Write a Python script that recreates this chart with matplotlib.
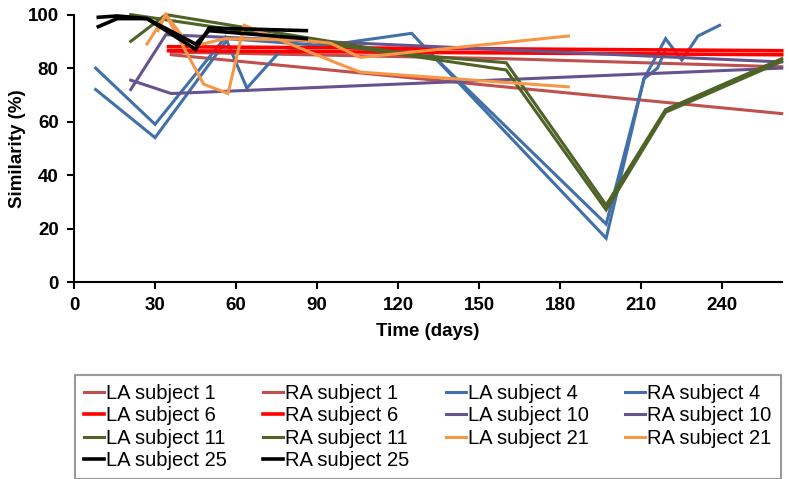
import matplotlib.pyplot as plt

plt.rcParams['font.family'] = ['Liberation Sans', 'DejaVu Sans']

# series data: (days, similarity %)
la1_t = [36, 262]
la1_v = [85, 63]
ra1_t = [36, 160, 262]
ra1_v = [86, 83.5, 80.5]

la4_t = [8, 30, 56, 64, 76, 125, 197, 211, 219, 225, 231, 239]
la4_v = [80, 59, 91.5, 72.5, 86, 93, 16.4, 76, 91, 83, 92, 96]
ra4_t = [8, 30, 57, 132, 197, 211, 216, 219]
ra4_v = [72, 54, 91, 85.5, 21.7, 76, 80, 87]

la6_t = [35, 262]
la6_v = [88, 86.5]
ra6_t = [35, 262]
ra6_v = [86.5, 85]

la10_t = [21, 36, 262]
la10_v = [75.5, 70.5, 80]
ra10_t = [21, 34, 262]
ra10_v = [72, 92.5, 82.3]

la11_t = [21, 34, 125, 160, 197, 219, 262]
la11_v = [90, 100, 85, 82, 28.8, 64.5, 83.5]
ra11_t = [21, 160, 197, 219, 262]
ra11_v = [100, 79.3, 27, 63.5, 82.5]

la21_t = [27, 34, 48, 57, 63, 97, 106, 183]
la21_v = [89, 100, 74, 70.5, 96, 82, 78.5, 73]
ra21_t = [31, 34, 43, 56, 84, 95, 106, 183]
ra21_v = [94, 100, 88, 91, 90.5, 89.3, 84, 92]

la25_t = [9, 16, 27, 45, 50, 86]
la25_v = [99, 99.5, 98.5, 87, 95, 94]
ra25_t = [9, 16, 27, 45, 50, 86]
ra25_v = [95.5, 98.5, 98.5, 89, 94, 91]

c_brown = '#C0504D'
c_blue = '#4270A8'
c_red = '#FF0000'
c_purple = '#66548F'
c_green = '#4F6228'
c_orange = '#F79646'
c_black = '#000000'

fig = plt.figure(figsize=(7.89, 4.79), dpi=100)
ax = fig.add_axes([0.0938, 0.411, 0.897, 0.5585])

lw = 2.2
l_la1, = ax.plot(la1_t, la1_v, color=c_brown, lw=lw, label='LA subject 1')
l_ra1, = ax.plot(ra1_t, ra1_v, color=c_brown, lw=lw, label='RA subject 1')
l_la4, = ax.plot(la4_t, la4_v, color=c_blue, lw=lw, label='LA subject 4')
l_ra4, = ax.plot(ra4_t, ra4_v, color=c_blue, lw=lw, label='RA subject 4')
l_la6, = ax.plot(la6_t, la6_v, color=c_red, lw=2.6, label='LA subject 6')
l_ra6, = ax.plot(ra6_t, ra6_v, color=c_red, lw=2.6, label='RA subject 6')
l_la10, = ax.plot(la10_t, la10_v, color=c_purple, lw=lw, label='LA subject 10')
l_ra10, = ax.plot(ra10_t, ra10_v, color=c_purple, lw=lw, label='RA subject 10')
l_la11, = ax.plot(la11_t, la11_v, color=c_green, lw=lw, label='LA subject 11')
l_ra11, = ax.plot(ra11_t, ra11_v, color=c_green, lw=lw, label='RA subject 11')
l_la21, = ax.plot(la21_t, la21_v, color=c_orange, lw=lw, label='LA subject 21')
l_ra21, = ax.plot(ra21_t, ra21_v, color=c_orange, lw=lw, label='RA subject 21')
l_la25, = ax.plot(la25_t, la25_v, color=c_black, lw=2.6, label='LA subject 25')
l_ra25, = ax.plot(ra25_t, ra25_v, color=c_black, lw=2.6, label='RA subject 25')

for ln in ax.get_lines():
    ln.set_clip_on(False)
    ln.set_solid_joinstyle('miter')

ax.set_xlim(0, 262)
ax.set_ylim(0, 100)
ax.set_xticks(range(0, 241, 30))
ax.set_yticks(range(0, 101, 20))
for s in ['top', 'right']:
    ax.spines[s].set_visible(False)
for s in ['left', 'bottom']:
    ax.spines[s].set_linewidth(1.5)
ax.tick_params(direction='out', width=1.5, length=5, labelsize=13.5, pad=6)
for lab in ax.get_xticklabels() + ax.get_yticklabels():
    lab.set_fontweight('bold')
ax.set_xlabel('Time (days)', fontsize=13.5, fontweight='bold', labelpad=6)
ax.set_ylabel('Similarity (%)', fontsize=13.5, fontweight='bold', labelpad=1)

# legend is filled column by column, so order handles to read row-wise
handles = [l_la1, l_la6, l_la11, l_la25,
           l_ra1, l_ra6, l_ra11, l_ra25,
           l_la4, l_la10, l_la21,
           l_ra4, l_ra10, l_ra21]
leg = fig.legend(handles=handles, ncol=4, loc='upper left',
                 bbox_to_anchor=(75 / 789, 1 - 375 / 479),
                 fontsize=14.5, frameon=True, fancybox=False,
                 edgecolor='#808080', handlelength=1.0, handletextpad=0.1,
                 columnspacing=1.8, labelspacing=0.17, borderaxespad=0,
                 borderpad=0.45)
leg.get_frame().set_linewidth(1.5)

fig.savefig('out.png', dpi=100)
